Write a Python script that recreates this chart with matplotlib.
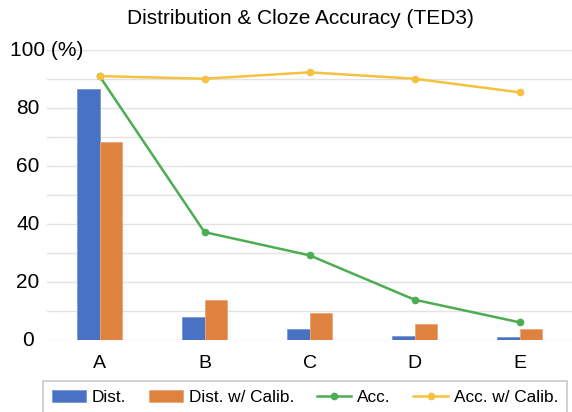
import matplotlib

matplotlib.use("Agg")

import matplotlib.pyplot as plt
import numpy as np

plt.rcParams["font.family"] = ["Liberation Sans", "DejaVu Sans"]

categories = ["A", "B", "C", "D", "E"]
dist = [86.5, 7.9, 3.8, 1.4, 1.0]
dist_calib = [68.2, 13.7, 9.3, 5.5, 3.8]
acc = [91.0, 37.2, 29.2, 13.9, 6.1]
acc_calib = [91.0, 90.1, 92.3, 90.1, 85.4]
y_ticks = [0, 20, 40, 60, 80, 100]

BLUE = "#4a72c4"
ORANGE = "#e0823f"
GREEN = "#4cad52"
YELLOW = "#f5c240"

W, H = 572, 412
fig = plt.figure(figsize=(W / 100, H / 100), dpi=100)
ax = fig.add_axes([47 / W, (H - 340) / H, 525 / W, 290 / H])

x = np.arange(len(categories))
bw = 0.21
b1 = ax.bar(x - bw / 2, dist, bw, color=BLUE, edgecolor="#7d9ad6", linewidth=0.6, label="Dist.", zorder=2)
b2 = ax.bar(x + bw / 2, dist_calib, bw, color=ORANGE, edgecolor="#eba577", linewidth=0.6,
            label="Dist. w/ Calib.", zorder=2)
l1, = ax.plot(x, acc, color=GREEN, linewidth=1.8, marker="o", markersize=4.5, label="Acc.", zorder=3)
l2, = ax.plot(x, acc_calib, color=YELLOW, linewidth=1.8, marker="o", markersize=4.5,
              label="Acc. w/ Calib.", zorder=3)

ax.set_xlim(-0.5, 4.5)
ax.set_ylim(0, 100)
ax.set_yticks(np.arange(0, 101, 10))
ax.yaxis.grid(True, color="#e2e2e2", linewidth=1, zorder=0)
ax.set_axisbelow(True)
ax.tick_params(axis="y", length=0, labelleft=False)
ax.set_xticks(x)
ax.set_xticklabels(categories, fontsize=14)
ax.tick_params(axis="x", length=0, pad=11)
for s in ax.spines.values():
    s.set_visible(False)

ytrans = ax.get_yaxis_transform()
for v in y_ticks:
    if v == 100:
        ax.text((10 - 47) / 525, v, "100 (%)", ha="left", va="center", fontsize=15, transform=ytrans)
    else:
        ax.text((28 - 47) / 525, v, str(v), ha="center", va="center", fontsize=15, transform=ytrans)

fig.text(300 / W, 1 - 18 / H, "Distribution & Cloze Accuracy (TED3)", ha="center", va="center", fontsize=15)

leg = fig.legend(handles=[b1, b2, l1, l2], loc="upper left", bbox_to_anchor=(43 / W, 31 / H), ncol=4,
                 fontsize=12.4, frameon=True, fancybox=False, edgecolor="#bdbdbd", handlelength=2.0,
                 handleheight=0.7, handletextpad=0.35, columnspacing=1.3, borderpad=0.5,
                 borderaxespad=0)
leg.get_frame().set_linewidth(1.2)

fig.savefig("out.png", dpi=100)
